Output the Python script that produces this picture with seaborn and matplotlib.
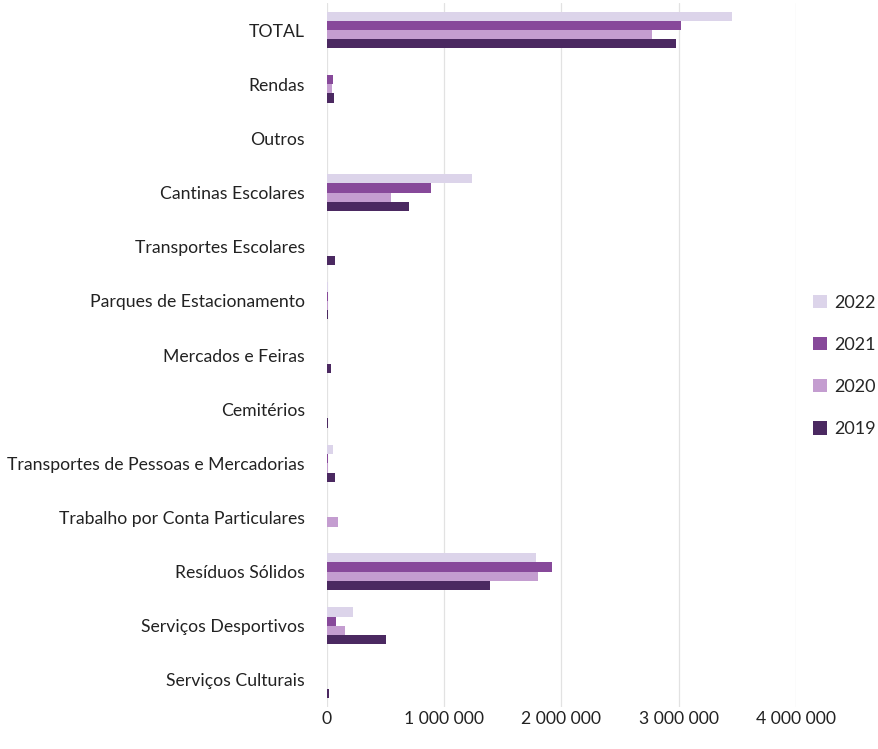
import matplotlib
matplotlib.use("Agg")
import matplotlib.pyplot as plt
import seaborn as sns
import pandas as pd
from matplotlib.ticker import FuncFormatter

categories = [
    "TOTAL", "Rendas", "Outros", "Cantinas Escolares", "Transportes Escolares",
    "Parques de Estacionamento", "Mercados e Feiras", "Cemitérios",
    "Transportes de Pessoas e Mercadorias", "Trabalho por Conta Particulares",
    "Resíduos Sólidos", "Serviços Desportivos", "Serviços Culturais",
]
years = ["2022", "2021", "2020", "2019"]
v2022 = [3450000, 0, 0, 1240000, 0, 6000, 0, 4000, 55000, 0, 1780000, 225000, 3000]
v2021 = [3020000, 50000, 0, 885000, 0, 9000, 0, 4000, 10000, 0, 1920000, 77000, 0]
v2020 = [2770000, 40000, 0, 550000, 0, 9000, 0, 4000, 8000, 97000, 1800000, 150000, 0]
v2019 = [2975000, 60000, 0, 700000, 65000, 9000, 38000, 5000, 65000, 0, 1390000, 500000, 17000]
colors = ["#dcd4ea", "#87499a", "#c49dd0", "#4b2961"]
xticks = [0, 1000000, 2000000, 3000000, 4000000]

rows = []
for yr, vals in zip(years, [v2022, v2021, v2020, v2019]):
    for c, v in zip(categories, vals):
        rows.append({"cat": c, "year": yr, "value": v})
df = pd.DataFrame(rows)

sns.set_theme(style="white")
plt.rcParams["font.family"] = ["Lato", "DejaVu Sans"]

fig = plt.figure(figsize=(8.79, 7.49), dpi=100)
ax = fig.add_axes([327 / 879, 1 - 707 / 749, (796 - 327) / 879, (707 - 3) / 749])

sns.barplot(data=df, y="cat", x="value", hue="year", order=categories,
            hue_order=years, palette=colors, orient="h", width=0.68,
            saturation=1, ax=ax, edgecolor="none")

ax.set_xlim(0, 4000000)
ax.set_ylim(12.5, -0.5)
ax.set_xticks(xticks)
ax.xaxis.set_major_formatter(FuncFormatter(lambda v, p: f"{int(v):,}".replace(",", " ")))
ax.grid(axis="x", color="#e2e2e2", linewidth=0.9)
ax.set_axisbelow(True)
for s in ax.spines.values():
    s.set_visible(False)
ax.set_xlabel("")
ax.set_ylabel("")
ax.tick_params(axis="y", length=0, pad=16, labelsize=12.7, labelcolor="#222222")
ax.tick_params(axis="x", length=0, pad=3, labelsize=12.7, labelcolor="#222222")

ax.legend(loc="center left", frameon=False, fontsize=13, labelspacing=1.45,
          handlelength=0.75, handleheight=0.75, handletextpad=0.4, borderaxespad=0)
leg = ax.get_legend()
leg.set_bbox_to_anchor((806 / 879, 1 - 366 / 749), transform=fig.transFigure)

fig.savefig("out.png", dpi=100)
